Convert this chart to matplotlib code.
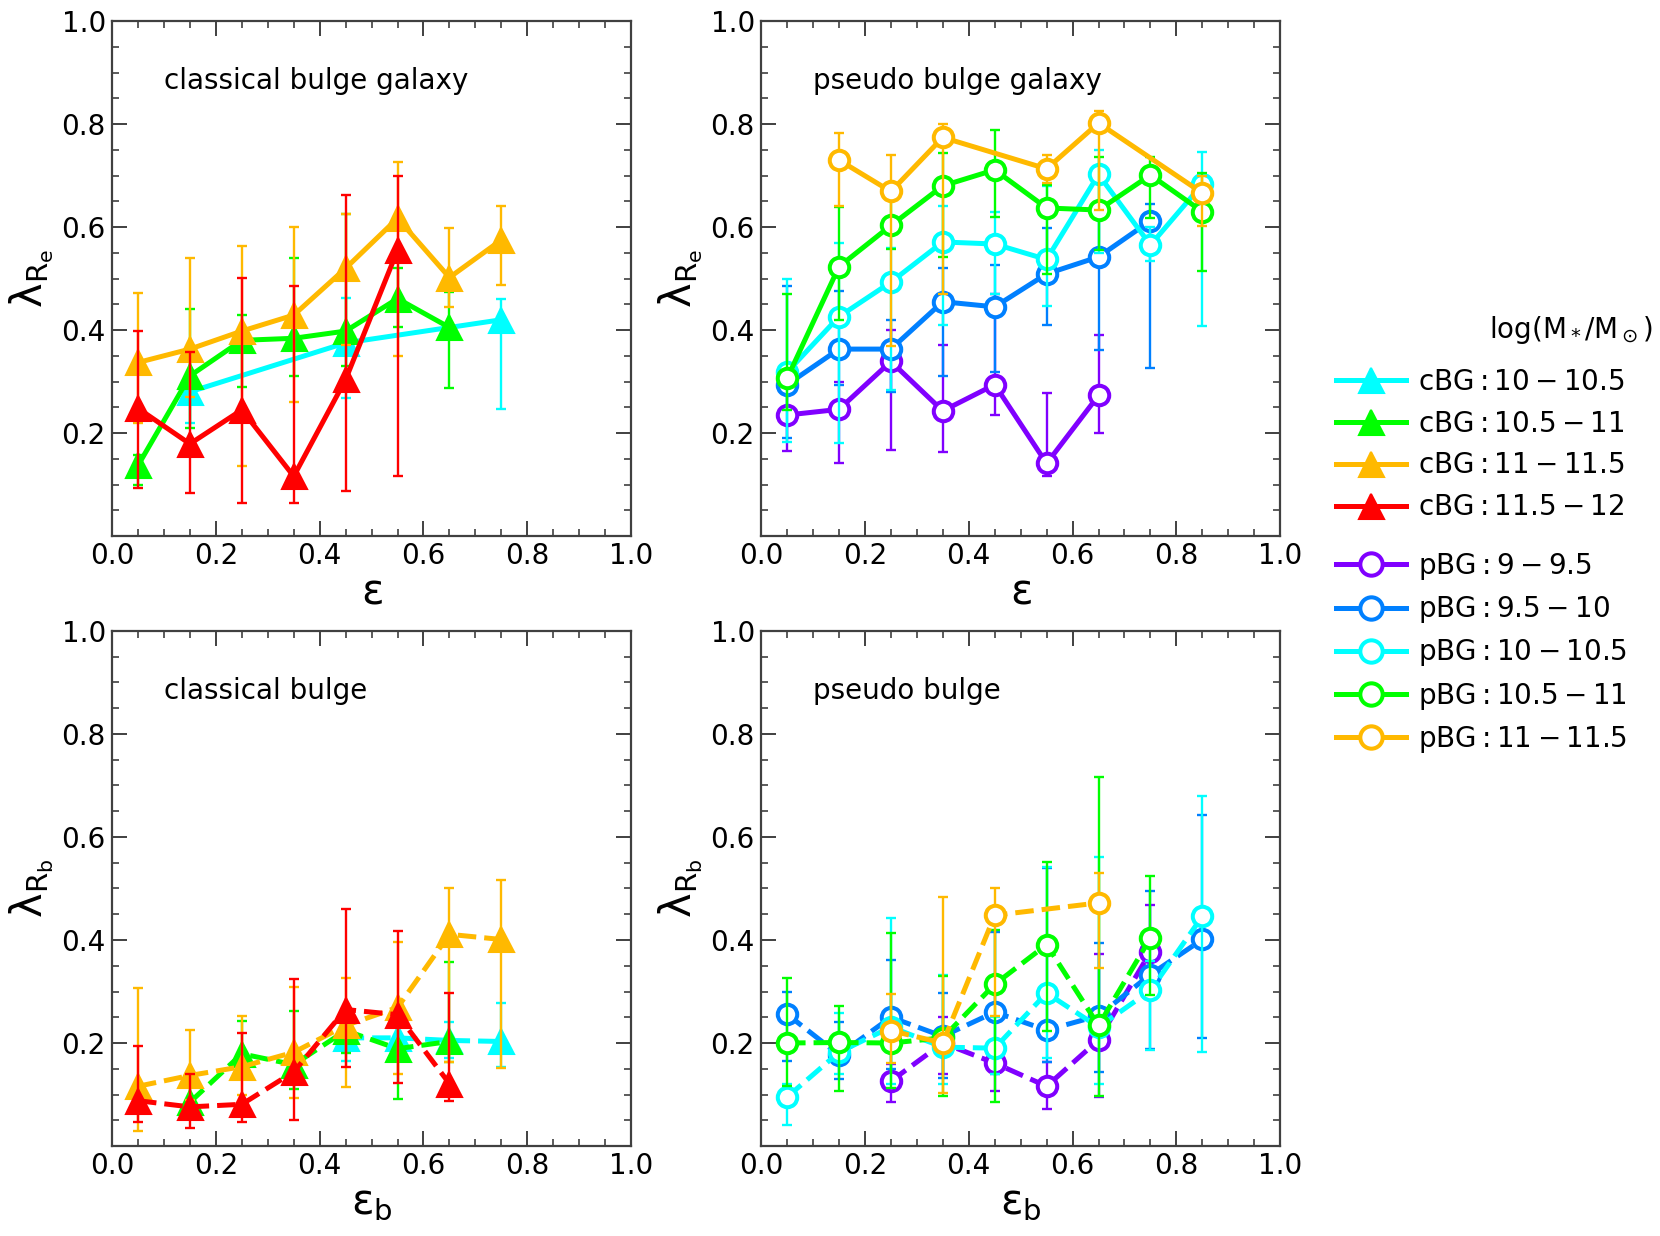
import matplotlib
matplotlib.use("Agg")
import matplotlib.pyplot as plt
from matplotlib.ticker import MultipleLocator

# colours per mass bin
C_PURPLE = "#8000ff"
C_BLUE = "#0080ff"
C_CYAN = "#00ffff"
C_GREEN = "#00ff00"
C_ORANGE = "#ffb900"
C_RED = "#ff0000"

cbg_labels = [r"$\mathrm{cBG:10-10.5}$", r"$\mathrm{cBG:10.5-11}$",
              r"$\mathrm{cBG:11-11.5}$", r"$\mathrm{cBG:11.5-12}$"]
cbg_colors = [C_CYAN, C_GREEN, C_ORANGE, C_RED]
pbg_labels = [r"$\mathrm{pBG:9-9.5}$", r"$\mathrm{pBG:9.5-10}$",
              r"$\mathrm{pBG:10-10.5}$", r"$\mathrm{pBG:10.5-11}$",
              r"$\mathrm{pBG:11-11.5}$"]
pbg_colors = [C_PURPLE, C_BLUE, C_CYAN, C_GREEN, C_ORANGE]

# --- classical bulge galaxies: lambda_Re vs ellipticity ---------------------
cgal_x = [[0.15, 0.45, 0.75],
          [0.05, 0.15, 0.25, 0.35, 0.45, 0.55, 0.65],
          [0.05, 0.15, 0.25, 0.35, 0.45, 0.55, 0.65, 0.75],
          [0.05, 0.15, 0.25, 0.35, 0.45, 0.55]]
cgal_y = [[0.28, 0.375, 0.42],
          [0.137, 0.311, 0.38, 0.384, 0.398, 0.461, 0.405],
          [0.337, 0.363, 0.398, 0.429, 0.52, 0.617, 0.502, 0.575],
          [0.248, 0.179, 0.245, 0.116, 0.304, 0.555]]
cgal_lo = [[0.22, 0.269, 0.247],
           [0.10, 0.21, 0.29, 0.31, 0.33, 0.405, 0.288],
           [0.22, 0.27, 0.136, 0.26, 0.37, 0.35, 0.445, 0.488],
           [0.094, 0.084, 0.064, 0.064, 0.087, 0.116]]
cgal_hi = [[0.35, 0.462, 0.461],
           [0.157, 0.44, 0.43, 0.54, 0.626, 0.52, 0.473],
           [0.471, 0.539, 0.563, 0.60, 0.626, 0.727, 0.598, 0.64],
           [0.398, 0.358, 0.501, 0.485, 0.662, 0.699]]

# --- pseudo bulge galaxies: lambda_Re vs ellipticity ------------------------
pgal_x = [[0.05, 0.15, 0.25, 0.35, 0.45, 0.55, 0.65],
          [0.05, 0.15, 0.25, 0.35, 0.45, 0.55, 0.65, 0.75],
          [0.05, 0.15, 0.25, 0.35, 0.45, 0.55, 0.65, 0.75, 0.85],
          [0.05, 0.15, 0.25, 0.35, 0.45, 0.55, 0.65, 0.75, 0.85],
          [0.15, 0.25, 0.35, 0.55, 0.65, 0.85]]
pgal_y = [[0.235, 0.246, 0.339, 0.243, 0.294, 0.141, 0.273],
          [0.294, 0.363, 0.363, 0.455, 0.445, 0.509, 0.542, 0.612],
          [0.318, 0.426, 0.493, 0.571, 0.567, 0.537, 0.702, 0.565, 0.683],
          [0.306, 0.523, 0.603, 0.68, 0.711, 0.637, 0.633, 0.701, 0.63],
          [0.73, 0.669, 0.774, 0.713, 0.802, 0.666]]
pgal_lo = [[0.165, 0.142, 0.168, 0.163, 0.235, 0.116, 0.20],
           [0.19, 0.294, 0.28, 0.31, 0.318, 0.41, 0.362, 0.327],
           [0.182, 0.18, 0.283, 0.41, 0.47, 0.447, 0.55, 0.534, 0.408],
           [0.245, 0.42, 0.558, 0.541, 0.62, 0.509, 0.555, 0.617, 0.515],
           [0.64, 0.369, 0.47, 0.685, 0.633, 0.602]]
pgal_hi = [[0.30, 0.30, 0.40, 0.37, 0.47, 0.278, 0.39],
           [0.485, 0.475, 0.42, 0.52, 0.527, 0.598, 0.62, 0.644],
           [0.499, 0.569, 0.56, 0.64, 0.63, 0.68, 0.75, 0.60, 0.745],
           [0.47, 0.638, 0.66, 0.743, 0.788, 0.682, 0.735, 0.735, 0.704],
           [0.782, 0.739, 0.80, 0.74, 0.826, 0.70]]

# --- classical bulges: lambda_Rb vs bulge ellipticity -----------------------
cbul_x = [[0.45, 0.55, 0.65, 0.75],
          [0.15, 0.25, 0.35, 0.45, 0.55, 0.65],
          [0.05, 0.15, 0.25, 0.35, 0.45, 0.55, 0.65, 0.75],
          [0.05, 0.15, 0.25, 0.35, 0.45, 0.55, 0.65]]
cbul_y = [[0.21, 0.21, 0.205, 0.203],
          [0.085, 0.179, 0.158, 0.224, 0.189, 0.203],
          [0.116, 0.137, 0.154, 0.182, 0.234, 0.269, 0.411, 0.401],
          [0.088, 0.076, 0.081, 0.144, 0.265, 0.255, 0.121]]
cbul_lo = [[0.166, 0.18, 0.17, 0.154],
           [0.06, 0.13, 0.11, 0.18, 0.092, 0.163],
           [0.029, 0.09, 0.10, 0.094, 0.114, 0.14, 0.163, 0.152],
           [0.047, 0.035, 0.047, 0.051, 0.153, 0.123, 0.088]]
cbul_hi = [[0.25, 0.24, 0.24, 0.277],
           [0.12, 0.243, 0.263, 0.25, 0.27, 0.358],
           [0.306, 0.226, 0.252, 0.309, 0.326, 0.397, 0.50, 0.517],
           [0.195, 0.14, 0.22, 0.325, 0.461, 0.417, 0.297]]

# --- pseudo bulges: lambda_Rb vs bulge ellipticity --------------------------
pbul_x = [[0.25, 0.35, 0.45, 0.55, 0.65, 0.75],
          [0.05, 0.15, 0.25, 0.35, 0.45, 0.55, 0.65, 0.75, 0.85],
          [0.05, 0.15, 0.25, 0.35, 0.45, 0.55, 0.65, 0.75, 0.85],
          [0.05, 0.15, 0.25, 0.35, 0.45, 0.55, 0.65, 0.75],
          [0.25, 0.35, 0.45, 0.65]]
pbul_y = [[0.126, 0.20, 0.161, 0.116, 0.206, 0.377],
          [0.256, 0.177, 0.25, 0.213, 0.26, 0.225, 0.253, 0.333, 0.401],
          [0.095, 0.182, 0.231, 0.192, 0.19, 0.297, 0.231, 0.302, 0.446],
          [0.20, 0.201, 0.20, 0.21, 0.314, 0.391, 0.234, 0.404],
          [0.224, 0.20, 0.448, 0.472]]
pbul_lo = [[0.085, 0.14, 0.106, 0.071, 0.095, 0.30],
           [0.165, 0.13, 0.15, 0.133, 0.14, 0.163, 0.144, 0.189, 0.21],
           [0.04, 0.14, 0.12, 0.12, 0.14, 0.17, 0.12, 0.186, 0.182],
           [0.116, 0.106, 0.113, 0.097, 0.086, 0.224, 0.097, 0.293],
           [0.161, 0.102, 0.252, 0.345]]
pbul_hi = [[0.16, 0.25, 0.20, 0.163, 0.373, 0.467],
           [0.30, 0.24, 0.361, 0.298, 0.415, 0.54, 0.394, 0.495, 0.642],
           [0.12, 0.259, 0.443, 0.333, 0.25, 0.542, 0.562, 0.36, 0.68],
           [0.327, 0.272, 0.413, 0.33, 0.42, 0.552, 0.716, 0.524],
           [0.295, 0.484, 0.50, 0.531]]

SPINE = "0.25"
FS = 20


def draw(ax, xs, ys, los, his, colors, labels, marker, ls):
    handles = []
    for x, y, lo, hi, c, lab in zip(xs, ys, los, his, colors, labels):
        err = [[v - l for v, l in zip(y, lo)], [h - v for v, h in zip(y, hi)]]
        ax.errorbar(x, y, yerr=err, fmt="none", ecolor=c, elinewidth=1.7,
                    capsize=3.8, capthick=1.7)
        if marker == "^":
            kw = dict(ms=18, mfc=c, mec=c, mew=1.5)
        else:
            kw = dict(ms=14, mfc="white", mec=c, mew=2.9)
        h, = ax.plot(x, y, color=c, lw=3.6, ls=ls, marker=marker, label=lab, **kw)
        handles.append(h)
    return handles


def style(ax, xlabel, ylabel, title):
    ax.set_xlim(0, 1)
    ax.set_ylim(0, 1)
    ax.set_xticks([0.0, 0.2, 0.4, 0.6, 0.8, 1.0])
    ax.set_yticks([0.2, 0.4, 0.6, 0.8, 1.0])
    ax.xaxis.set_minor_locator(MultipleLocator(0.05))
    ax.yaxis.set_minor_locator(MultipleLocator(0.05))
    ax.tick_params(which="both", direction="in", top=True, right=True,
                   color=SPINE, labelsize=FS, pad=4.5)
    ax.tick_params(which="major", length=10.6, width=1.4)
    ax.tick_params(which="minor", length=5.3, width=1.2)
    for s in ax.spines.values():
        s.set_color(SPINE)
        s.set_linewidth(1.6)
    ax.set_xlabel(xlabel, fontsize=30, labelpad=0.5)
    ax.set_ylabel(ylabel, fontsize=30)
    ax.text(0.1, 0.883, title, transform=ax.transAxes, fontsize=FS,
            ha="left", va="center")


fig = plt.figure(figsize=(16.6, 12.36), dpi=100)
W, H = 0.3127, 0.4167
ax1 = fig.add_axes([0.0675, 0.5663, W, H])
ax2 = fig.add_axes([0.4585, 0.5663, W, H])
ax3 = fig.add_axes([0.0675, 0.0728, W, H])
ax4 = fig.add_axes([0.4585, 0.0728, W, H])

h_cbg = draw(ax1, cgal_x, cgal_y, cgal_lo, cgal_hi, cbg_colors, cbg_labels, "^", "-")
h_pbg = draw(ax2, pgal_x, pgal_y, pgal_lo, pgal_hi, pbg_colors, pbg_labels, "o", "-")
draw(ax3, cbul_x, cbul_y, cbul_lo, cbul_hi, cbg_colors, cbg_labels, "^", "--")
draw(ax4, pbul_x, pbul_y, pbul_lo, pbul_hi, pbg_colors, pbg_labels, "o", "--")

lab_e = r"$\mathrm{\varepsilon}$"
lab_eb = r"$\mathrm{\varepsilon_b}$"
lab_lre = r"$\mathrm{\lambda_{R_e}}$"
lab_lrb = r"$\mathrm{\lambda_{R_b}}$"
style(ax1, lab_e, lab_lre, "classical bulge galaxy")
style(ax2, lab_e, lab_lre, "pseudo bulge galaxy")
style(ax3, lab_eb, lab_lrb, "classical bulge")
style(ax4, lab_eb, lab_lrb, "pseudo bulge")

# legend title drawn as its own text, right aligned
fig.text(0.996, 0.733, r"$\mathrm{log(M_*/M_\odot)}$", fontsize=FS,
         ha="right", va="center")
leg1 = fig.legend(handles=h_cbg, loc="upper left", bbox_to_anchor=(0.790, 0.7228),
                  frameon=False, fontsize=FS, handlelength=2.5, handletextpad=0.45,
                  labelspacing=0.5)
leg2 = fig.legend(handles=h_pbg, loc="upper left", bbox_to_anchor=(0.790, 0.5744),
                  frameon=False, fontsize=FS, handlelength=2.5, handletextpad=0.45,
                  labelspacing=0.44, markerscale=1.15)

fig.savefig("out.png", dpi=100)
